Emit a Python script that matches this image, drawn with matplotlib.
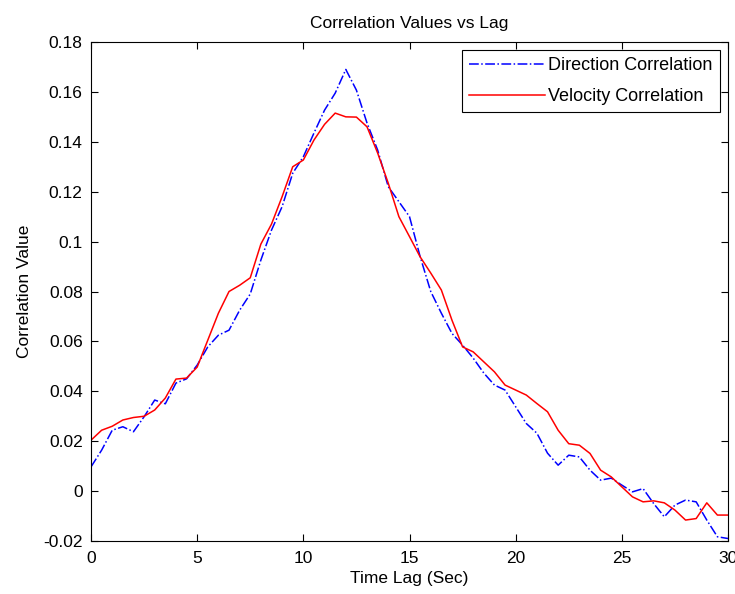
import numpy as np
import matplotlib.pyplot as plt

# --- DATA (0.5 s steps) ---
time_lag = np.arange(0, 30.5, 0.5)

direction_corr = [
    0.0097, 0.0164, 0.0244, 0.0258, 0.0238, 0.0298, 0.0365, 0.0350, 0.0433, 0.0450,
    0.0505, 0.0578, 0.0625, 0.0645, 0.0725, 0.0790, 0.0926, 0.1046, 0.1140, 0.1274,
    0.1340, 0.1435, 0.1527, 0.1595, 0.1690, 0.1607, 0.1475, 0.1367, 0.1220, 0.1160,
    0.1100, 0.0940, 0.0800, 0.0713, 0.0632, 0.0585, 0.0533, 0.0473, 0.0425, 0.0405,
    0.0338, 0.0271, 0.0232, 0.0152, 0.0104, 0.0144, 0.0137, 0.0084, 0.0044, 0.0052,
    0.0024, -0.0003, 0.0010, -0.0050, -0.0103, -0.0056, -0.0036, -0.0043, -0.0116, -0.0183,
    -0.0190,
]

velocity_corr = [
    0.0204, 0.0244, 0.0260, 0.0285, 0.0295, 0.0300, 0.0325, 0.0373, 0.0449, 0.0453,
    0.0497, 0.0605, 0.0713, 0.0800, 0.0825, 0.0855, 0.0990, 0.1070, 0.1180, 0.1300,
    0.1327, 0.1407, 0.1470, 0.1515, 0.1500, 0.1499, 0.1460, 0.1355, 0.1234, 0.1100,
    0.1020, 0.0939, 0.0874, 0.0806, 0.0685, 0.0578, 0.0558, 0.0518, 0.0478, 0.0425,
    0.0405, 0.0385, 0.0351, 0.0318, 0.0244, 0.0190, 0.0184, 0.0151, 0.0084, 0.0057,
    0.0017, -0.0023, -0.0043, -0.0039, -0.0047, -0.0076, -0.0116, -0.0110, -0.0047, -0.0096,
    -0.0096,
]

ytick_labels = ['-0.02', '0', '0.02', '0.04', '0.06', '0.08', '0.1',
                '0.12', '0.14', '0.16', '0.18']

plt.rcParams['font.family'] = ['Liberation Sans', 'DejaVu Sans']

fig = plt.figure(figsize=(7.35, 5.94), dpi=100)
ax = fig.add_axes([0.1238, 0.0892, 0.8667, 0.8401])

ax.plot(time_lag, direction_corr, '-.', color='#0000ff', linewidth=1.1, label='Direction Correlation')
ax.plot(time_lag, velocity_corr, '-', color='#ff0000', linewidth=1.1, label='Velocity Correlation')

ax.set_xlim(0, 30)
ax.set_ylim(-0.02, 0.18)
ax.set_xticks(np.arange(0, 31, 5))
ax.set_yticks(np.linspace(-0.02, 0.18, 11))
ax.set_yticklabels(ytick_labels)
ax.tick_params(axis='both', direction='in', top=True, right=True, labelsize=12.5, length=5)
ax.tick_params(axis='x', pad=7)
ax.tick_params(axis='y', pad=6)

ax.set_title('Correlation Values vs Lag', fontsize=12.5, pad=10)
ax.set_xlabel('Time Lag (Sec)', fontsize=12.5, labelpad=4)
ax.set_ylabel('Correlation Value', fontsize=12.5, labelpad=8)

leg = ax.legend(loc='upper right', fontsize=13, fancybox=False, framealpha=1,
                edgecolor='black', borderaxespad=0.45, handlelength=4.2,
                borderpad=0.4, labelspacing=0.75, handletextpad=0.2)
leg.get_frame().set_linewidth(0.8)

plt.savefig('out.png', dpi=100)
